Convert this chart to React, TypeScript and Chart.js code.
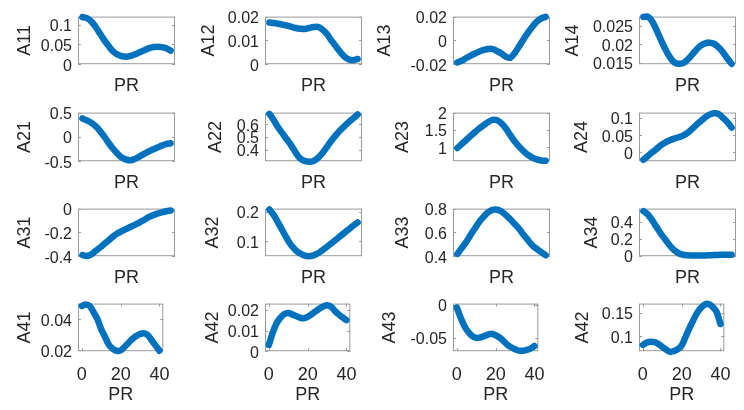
import React, { useEffect, useRef } from "react";
import { Chart, registerables } from "chart.js";
Chart.register(...registerables);

// ---------- data ----------
const PR = [0, 2, 4, 6, 8, 10, 12, 14, 16, 18, 20, 22, 24, 26, 28, 30, 32, 34, 36, 38, 40];
const X_TICKS = [0, 20, 40];
const X_MIN = -2;
const X_MAX = 42;

const A11 = [0.119, 0.116, 0.108, 0.094, 0.077, 0.06, 0.045, 0.032, 0.024, 0.02, 0.019, 0.021, 0.025, 0.03, 0.035, 0.04, 0.043, 0.044, 0.043, 0.04, 0.034];
const A12 = [0.0175, 0.0173, 0.017, 0.0166, 0.0162, 0.0157, 0.0152, 0.0149, 0.0148, 0.0152, 0.0156, 0.0157, 0.0146, 0.0128, 0.0101, 0.0077, 0.0053, 0.0032, 0.002, 0.0017, 0.0022];
const A13 = [-0.0185, -0.017, -0.0148, -0.0128, -0.011, -0.0093, -0.008, -0.0072, -0.0073, -0.009, -0.011, -0.0137, -0.0145, -0.0105, -0.005, 0.001, 0.0065, 0.0115, 0.0158, 0.0185, 0.0198];
const A14 = [0.0274, 0.0275, 0.0262, 0.0238, 0.0212, 0.0187, 0.0166, 0.0152, 0.0148, 0.015, 0.0159, 0.0172, 0.0186, 0.0197, 0.0203, 0.0205, 0.0202, 0.0193, 0.018, 0.0163, 0.0148];
const A21 = [0.38, 0.34, 0.29, 0.22, 0.12, 0.0, -0.13, -0.25, -0.35, -0.43, -0.47, -0.48, -0.45, -0.4, -0.35, -0.3, -0.26, -0.22, -0.18, -0.15, -0.13];
const A22 = [0.68, 0.63, 0.573, 0.525, 0.478, 0.43, 0.375, 0.33, 0.312, 0.306, 0.312, 0.335, 0.372, 0.42, 0.468, 0.51, 0.55, 0.583, 0.615, 0.645, 0.675];
const A23 = [0.98, 1.1, 1.21, 1.33, 1.44, 1.55, 1.64, 1.73, 1.79, 1.78, 1.69, 1.54, 1.35, 1.17, 1.02, 0.89, 0.78, 0.7, 0.65, 0.62, 0.61];
const A24 = [-0.022, -0.011, 0.0, 0.01, 0.021, 0.029, 0.035, 0.04, 0.044, 0.049, 0.057, 0.068, 0.08, 0.091, 0.102, 0.11, 0.114, 0.112, 0.101, 0.089, 0.072];
const A31 = [-0.39, -0.398, -0.385, -0.355, -0.327, -0.296, -0.265, -0.234, -0.208, -0.188, -0.17, -0.152, -0.135, -0.115, -0.095, -0.072, -0.055, -0.042, -0.031, -0.022, -0.016];
const A32 = [0.207, 0.188, 0.162, 0.135, 0.108, 0.085, 0.069, 0.058, 0.051, 0.049, 0.052, 0.059, 0.069, 0.08, 0.092, 0.104, 0.116, 0.128, 0.14, 0.152, 0.163];
const A33 = [0.42, 0.47, 0.52, 0.58, 0.635, 0.69, 0.735, 0.77, 0.79, 0.79, 0.775, 0.745, 0.71, 0.67, 0.63, 0.58, 0.535, 0.49, 0.462, 0.435, 0.408];
const A34 = [0.53, 0.49, 0.42, 0.34, 0.26, 0.19, 0.12, 0.065, 0.03, 0.012, 0.006, 0.004, 0.003, 0.003, 0.004, 0.006, 0.008, 0.01, 0.012, 0.013, 0.013];
const A41 = [0.0485, 0.0495, 0.0485, 0.0445, 0.04, 0.0335, 0.0285, 0.0235, 0.021, 0.0197, 0.02, 0.0222, 0.0248, 0.0273, 0.0292, 0.0305, 0.031, 0.0298, 0.0265, 0.0232, 0.0198];
const A42 = [0.003, 0.009, 0.0135, 0.0162, 0.018, 0.0185, 0.0178, 0.017, 0.0162, 0.0159, 0.0166, 0.0178, 0.0192, 0.0205, 0.0216, 0.0222, 0.0215, 0.0195, 0.0178, 0.0163, 0.015];
const A43 = [-0.004, -0.02, -0.033, -0.042, -0.048, -0.0505, -0.05, -0.048, -0.0455, -0.0443, -0.0465, -0.05, -0.055, -0.061, -0.065, -0.068, -0.0702, -0.0703, -0.069, -0.067, -0.063];
const A44 = [0.081, 0.086, 0.088, 0.087, 0.083, 0.077, 0.071, 0.066, 0.068, 0.072, 0.08, 0.098, 0.117, 0.134, 0.15, 0.161, 0.168, 0.169, 0.163, 0.152, 0.126];

const LABELS = [
  ["A11", "A12", "A13", "A14"],
  ["A21", "A22", "A23", "A24"],
  ["A31", "A32", "A33", "A34"],
  ["A41", "A42", "A43", "A42"],
];
const SERIES = [
  [A11, A12, A13, A14],
  [A21, A22, A23, A24],
  [A31, A32, A33, A34],
  [A41, A42, A43, A44],
];
const Y_TICKS = [
  [[0, 0.05, 0.1], [0, 0.01, 0.02], [-0.02, 0, 0.02], [0.015, 0.02, 0.025]],
  [[-0.5, 0, 0.5], [0.4, 0.5, 0.6], [1, 1.5, 2], [0, 0.05, 0.1]],
  [[-0.4, -0.2, 0], [0.1, 0.2], [0.4, 0.6, 0.8], [0, 0.2, 0.4]],
  [[0.02, 0.04], [0, 0.01, 0.02], [-0.05, 0], [0.1, 0.15]],
];
const Y_LIMS = [
  [[0, 0.12], [0, 0.02], [-0.02, 0.02], [0.0147, 0.0275]],
  [[-0.5, 0.5], [0.31, 0.69], [0.6, 2.0], [-0.026, 0.116]],
  [[-0.4, 0], [0.049, 0.21], [0.4, 0.8], [-0.005, 0.56]],
  [[0.0195, 0.05], [0, 0.023], [-0.071, 0.002], [0.0675, 0.17]],
];

// ---------- layout ----------
const BOX_L = [78, 265, 453, 639];
const BOX_R = [175, 362, 550, 736];
const BOX_T = [13, 109, 205, 300];
const BOX_B = [64, 161, 256, 351];
const TITLE_X = [
  [25, 209, 385, 573],
  [25, 216, 403, 582],
  [25, 213, 403, 592],
  [25, 213, 390, 583],
];
const FONT = "'Liberation Sans', Arial, Helvetica, sans-serif";
const TEXT = "#262626";
const BLUE = "#0072BD";
const BOX_COLOR = "#9a9a9a";
const TITLE_SIZE = 18;
const TITLE_LH = TITLE_SIZE * 1.2;
const XTICK_SIZE = 18;
const XTICK_LH = XTICK_SIZE * 1.2;
const YTICK_SIZE = 16;
const PAD_T = 12;
const PAD_R = 8;

const boxPlugin = {
  id: "matlabBox",
  beforeDatasetsDraw(chart: any) {
    const { ctx, chartArea: a, scales } = chart;
    const bottomRow = chart.options.plugins.matlabBox?.bottomRow;
    ctx.save();
    ctx.strokeStyle = BOX_COLOR;
    ctx.lineWidth = 1;
    ctx.strokeRect(a.left + 0.5, a.top + 0.5, a.right - a.left - 1, a.bottom - a.top - 1);
    ctx.beginPath();
    scales.y.ticks.forEach((t: any) => {
      const py = Math.round(scales.y.getPixelForValue(t.value)) + 0.5;
      ctx.moveTo(a.left, py);
      ctx.lineTo(a.left + 3, py);
      ctx.moveTo(a.right, py);
      ctx.lineTo(a.right - 3, py);
    });
    if (bottomRow) {
      scales.x.ticks.forEach((t: any) => {
        const px = Math.round(scales.x.getPixelForValue(t.value)) + 0.5;
        ctx.moveTo(px, a.bottom);
        ctx.lineTo(px, a.bottom - 3);
        ctx.moveTo(px, a.top);
        ctx.lineTo(px, a.top + 3);
      });
    }
    ctx.stroke();
    ctx.restore();
  },
};

function Panel({ row, col }: { row: number; col: number }) {
  const ref = useRef<HTMLCanvasElement>(null);
  const bottomRow = row === 3;
  const canvasLeft = Math.round(TITLE_X[row][col] - TITLE_LH / 2);
  const canvasTop = BOX_T[row] - PAD_T;
  const yAxisW = BOX_L[col] - canvasLeft;
  const xAxisH = (bottomRow ? 44 : 22) + TITLE_LH / 2;
  const w = BOX_R[col] + PAD_R - canvasLeft;
  const h = Math.round(PAD_T + (BOX_B[row] - BOX_T[row]) + xAxisH);

  useEffect(() => {
    const values = SERIES[row][col];
    const yTicks = Y_TICKS[row][col];
    const [ymin, ymax] = Y_LIMS[row][col];
    const chart = new Chart(ref.current as HTMLCanvasElement, {
      type: "line",
      data: {
        datasets: [
          {
            data: PR.map((x, i) => ({ x, y: values[i] })),
            borderColor: BLUE,
            borderWidth: 6.5,
            borderCapStyle: "round",
            borderJoinStyle: "round",
            tension: 0.4,
            pointRadius: 0,
            pointHoverRadius: 0,
            fill: false,
            clip: 8,
          } as any,
        ],
      },
      options: {
        animation: false,
        responsive: false,
        maintainAspectRatio: false,
        devicePixelRatio: 1,
        events: [],
        layout: { padding: { left: 0, top: PAD_T, right: PAD_R, bottom: 0 } },
        plugins: {
          legend: { display: false },
          tooltip: { enabled: false },
          matlabBox: { bottomRow },
        } as any,
        scales: {
          x: {
            type: "linear",
            min: X_MIN,
            max: X_MAX,
            afterBuildTicks: (s: any) => {
              s.ticks = X_TICKS.map((v) => ({ value: v }));
            },
            afterFit: (s: any) => {
              s.height = xAxisH;
            },
            grid: { display: false, drawTicks: false },
            border: { display: false },
            ticks: {
              display: bottomRow,
              autoSkip: false,
              maxRotation: 0,
              padding: 24 - XTICK_LH / 2,
              font: { family: FONT, size: XTICK_SIZE, lineHeight: 1.2 },
              color: TEXT,
              callback: (v: any) => String(v),
            },
            title: {
              display: true,
              text: "PR",
              padding: 0,
              font: { family: FONT, size: TITLE_SIZE, lineHeight: 1.2 },
              color: TEXT,
            },
          },
          y: {
            type: "linear",
            min: ymin,
            max: ymax,
            afterBuildTicks: (s: any) => {
              s.ticks = yTicks.map((v) => ({ value: v }));
            },
            afterFit: (s: any) => {
              s.width = yAxisW;
            },
            grid: { display: false, drawTicks: false },
            border: { display: false },
            ticks: {
              autoSkip: false,
              padding: 6,
              labelOffset: 2,
              font: { family: FONT, size: YTICK_SIZE, lineHeight: 1.2 },
              color: TEXT,
              callback: (v: any) => String(v),
            },
            title: {
              display: true,
              text: LABELS[row][col],
              padding: 0,
              font: { family: FONT, size: TITLE_SIZE, lineHeight: 1.2 },
              color: TEXT,
            },
          },
        },
      },
      plugins: [boxPlugin],
    });
    return () => chart.destroy();
  }, [row, col]);

  return (
    <canvas
      ref={ref}
      width={w}
      height={h}
      style={{ position: "absolute", left: canvasLeft, top: canvasTop, width: w, height: h }}
    />
  );
}

export default function App() {
  const cells: { row: number; col: number }[] = [];
  for (let r = 0; r < 4; r++) for (let c = 0; c < 4; c++) cells.push({ row: r, col: c });
  return (
    <div
      style={{
        position: "fixed",
        left: 0,
        top: 0,
        width: 744,
        height: 410,
        background: "#ffffff",
        overflow: "hidden",
      }}
    >
      {cells.map((p) => (
        <Panel key={`${p.row}-${p.col}`} row={p.row} col={p.col} />
      ))}
    </div>
  );
}
